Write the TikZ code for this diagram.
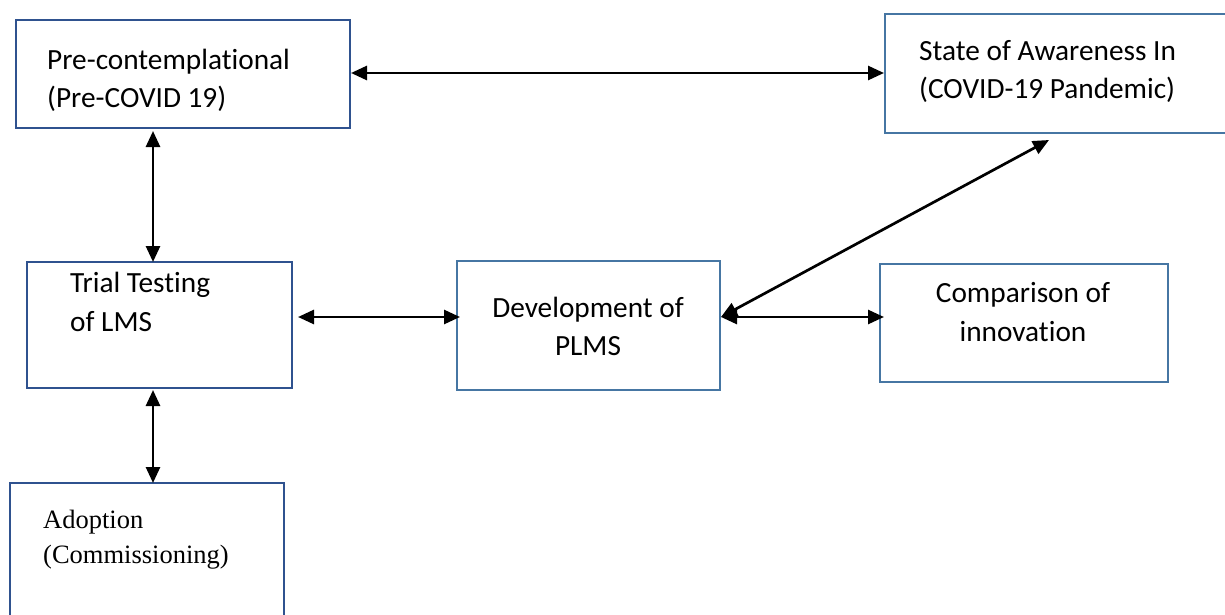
\documentclass[tikz,border=0pt]{standalone}
\usepackage{fontspec}
\setmainfont{Carlito}[Ligatures=CommonOff]
\newfontfamily\tnr{Liberation Serif}
\usetikzlibrary{arrows.meta}
\definecolor{boxdark}{RGB}{47,82,143}
\definecolor{boxlight}{RGB}{70,118,163}
\tikzset{
  box/.style={draw=#1, line width=2pt, inner sep=0pt, fill=none},
  lbl/.style={inner sep=0pt, font=\fontsize{29.3}{33}\selectfont},
  lblt/.style={inner sep=0pt, font=\tnr\fontsize{26.5}{30}\selectfont},
  arr/.style={line width=2.7pt, {Triangle[length=16pt,width=14pt]}-{Triangle[length=16pt,width=14pt]}},
}
\begin{document}
\begin{tikzpicture}[x=1pt,y=-1pt]
\useasboundingbox (0,0) rectangle (1225,615);
\clip (0,0) rectangle (1225,615);
\fill[white] (0,0) rectangle (1225,615);
% boxes
\node[box=boxdark, minimum width=334pt, minimum height=108pt] (b1) at (183,74) {};
\node[box=boxlight, minimum width=355pt, minimum height=119pt] (b2) at (1062.5,73.5) {};
\node[box=boxdark, minimum width=265pt, minimum height=126pt] (b3) at (159.5,325) {};
\node[box=boxlight, minimum width=263pt, minimum height=129pt] (b4) at (588.5,325.5) {};
\node[box=boxlight, minimum width=288pt, minimum height=118pt] (b5) at (1024,323) {};
\node[box=boxdark, minimum width=274pt, minimum height=142pt] (b6) at (147,554) {};
% texts
\node[lbl, anchor=base west] (t1a) at (47,70) {Pre-contemplational};
\node[lbl, anchor=base west] (t1b) at (47,108) {(Pre-COVID 19)};
\node[lbl, anchor=base west] (t2a) at (919,61) {State of Awareness In};
\node[lbl, anchor=base west] (t2b) at (919,99) {(COVID-19 Pandemic)};
\node[lbl, anchor=base west] (t3a) at (70,292) {Trial Testing};
\node[lbl, anchor=base west] (t3b) at (70,331) {of LMS};
\node[lbl, anchor=base] (t4a) at (588,317) {Development of};
\node[lbl, anchor=base] (t4b) at (588,355) {PLMS};
\node[lbl, anchor=base] (t5a) at (1023,302) {Comparison of};
\node[lbl, anchor=base] (t5b) at (1023,341) {innovation};
\node[lblt, anchor=base west] (t6a) at (43,528) {Adoption};
\node[lblt, anchor=base west] (t6b) at (43,563) {(Commissioning)};
% connectors
\coordinate (vx) at (153,0);
\coordinate (dg) at (1049,140);
\draw[arr] (b1.east |- 0,73) -- (b2.west |- 0,73);
\draw[arr, shorten <=2pt, shorten >=-1pt] (vx |- b1.south) -- (vx |- b3.north);
\draw[arr, shorten <=1pt, shorten >=-1pt] (vx |- b3.south) -- (vx |- b6.north);
\draw[arr, shorten <=5pt, shorten >=-4pt] (b3.east |- 0,317) -- (b4.west |- 0,317);
\draw[arr, shorten >=-5pt] (b4.east |- 0,317) -- (b5.west |- 0,317);
\draw[arr] (dg) -- (b4.east |- 0,317);
\end{tikzpicture}
\end{document}
